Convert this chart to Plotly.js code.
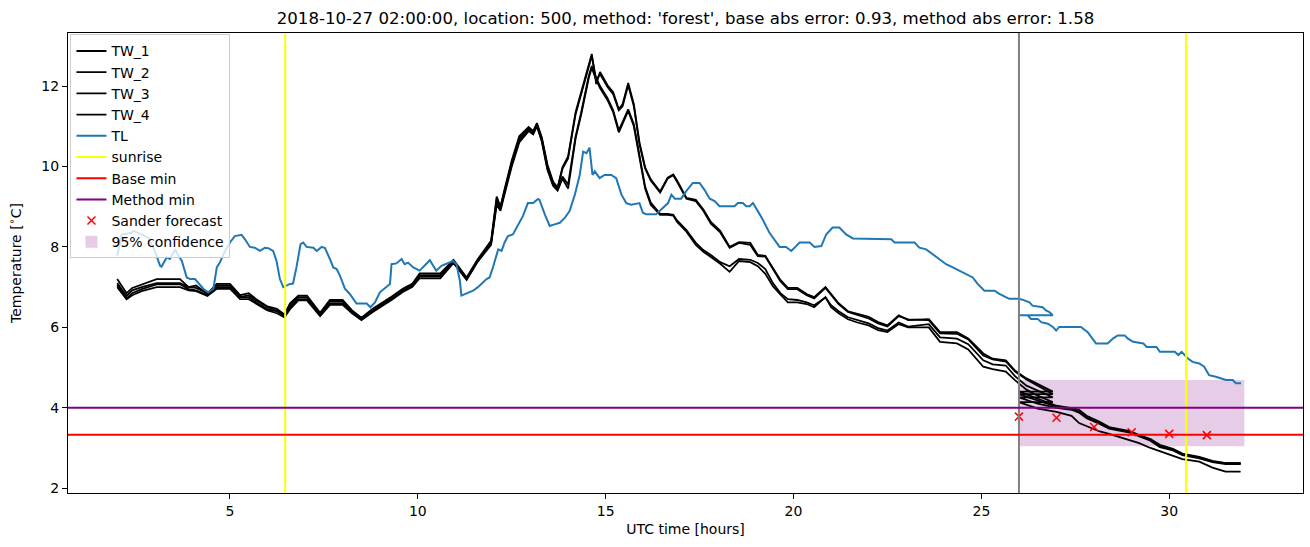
<!DOCTYPE html>
<html>
<head>
<meta charset="utf-8">
<script src="https://cdn.plot.ly/plotly-3.0.1.min.js"></script>
<style>html,body{margin:0;padding:0;background:#fff;}#chart{width:1310px;height:547px;}</style>
</head>
<body>
<div id="chart"></div>
<script>
// ---------- data ----------
const twTime = [2.0, 2.25, 2.4, 2.65, 3.05, 3.67, 3.9, 4.1, 4.4, 4.65,
  5.0, 5.27, 5.5, 5.7, 6.0, 6.25, 6.45, 6.6, 6.82, 7.05,
  7.4, 7.66, 8.0, 8.25, 8.5, 8.8, 9.05, 9.3, 9.6, 9.85,
  10.05, 10.6, 10.95, 11.3, 11.6, 11.95, 12.1, 12.2, 12.3, 12.5,
  12.7, 12.95, 13.07, 13.17, 13.3, 13.45, 13.6, 13.72, 13.85, 14.0,
  14.2, 14.35, 14.55, 14.63, 14.75, 14.85, 15.05, 15.2, 15.35, 15.45,
  15.6, 15.75, 15.9, 16.05, 16.2, 16.45, 16.65, 16.8, 16.9, 17.15,
  17.4, 17.6, 17.8, 18.05, 18.3, 18.55, 18.85, 19.05, 19.25, 19.45,
  19.65, 19.85, 20.1, 20.35, 20.55, 20.85, 21.0, 21.2, 21.45, 21.7,
  22.0, 22.25, 22.5, 22.8, 23.05, 23.6, 23.9, 24.35, 24.65, 25.05,
  25.3, 25.65, 25.9, 26.2, 26.5, 26.9];

const tw1 = [7.20, 6.85, 6.98, 7.07, 7.20, 7.20, 7.00, 7.04, 6.83, 7.08,
  7.08, 6.80, 6.85, 6.70, 6.52, 6.46, 6.32, 6.60, 6.79, 6.79,
  6.36, 6.68, 6.68, 6.42, 6.24, 6.46, 6.60, 6.76, 6.96, 7.08,
  7.34, 7.34, 7.68, 7.24, 7.70, 8.15, 9.25, 9.00, 9.40, 10.15,
  10.75, 10.98, 10.88, 11.08, 10.72, 10.05, 9.62, 9.48, 9.98, 10.25,
  11.35, 11.85, 12.55, 12.80, 12.05, 12.35, 12.02, 11.85, 11.42, 11.55,
  12.08, 11.55, 10.60, 9.98, 9.68, 9.38, 9.72, 9.80, 9.65, 9.22,
  9.17, 8.93, 8.62, 8.40, 8.00, 8.12, 8.10, 7.80, 7.78, 7.47,
  7.18, 6.98, 6.98, 6.83, 6.75, 7.00, 6.84, 6.60, 6.40, 6.33,
  6.26, 6.13, 6.05, 6.30, 6.18, 6.20, 5.88, 5.88, 5.72, 5.35,
  5.22, 5.18, 4.92, 4.73, 4.58, 4.40];

const tw2 = [7.10, 6.78, 6.92, 7.00, 7.10, 7.10, 7.00, 6.98, 6.85, 7.04,
  7.04, 6.75, 6.80, 6.67, 6.50, 6.42, 6.30, 6.55, 6.75, 6.75,
  6.33, 6.65, 6.65, 6.40, 6.22, 6.44, 6.58, 6.74, 6.94, 7.05,
  7.30, 7.30, 7.66, 7.22, 7.68, 8.10, 9.20, 8.98, 9.35, 10.10,
  10.70, 10.95, 10.85, 11.05, 10.70, 10.00, 9.60, 9.45, 9.94, 10.20,
  11.30, 11.80, 12.50, 12.75, 12.15, 12.30, 11.98, 11.80, 11.40, 11.50,
  12.02, 11.50, 10.55, 9.95, 9.65, 9.35, 9.70, 9.78, 9.62, 9.20,
  9.14, 8.90, 8.58, 8.36, 7.98, 8.10, 8.05, 7.77, 7.76, 7.45,
  7.15, 6.95, 6.95, 6.80, 6.72, 6.98, 6.82, 6.58, 6.38, 6.30,
  6.22, 6.10, 6.02, 6.28, 6.20, 6.18, 5.85, 5.84, 5.70, 5.30,
  5.20, 5.15, 4.90, 4.70, 4.55, 4.34];

const tw3 = [7.05, 6.72, 6.85, 6.95, 7.07, 7.07, 6.95, 6.92, 6.80, 7.00,
  7.00, 6.75, 6.75, 6.62, 6.45, 6.40, 6.28, 6.50, 6.70, 6.70,
  6.30, 6.60, 6.60, 6.38, 6.20, 6.40, 6.55, 6.70, 6.90, 7.02,
  7.26, 7.26, 7.62, 7.20, 7.66, 8.08, 9.10, 8.95, 9.30, 10.05,
  10.65, 10.92, 10.82, 11.02, 10.65, 9.95, 9.55, 9.42, 9.75, 9.55,
  10.75, 11.35, 12.25, 12.50, 12.20, 12.00, 11.70, 11.40, 10.90, 11.10,
  11.42, 11.05, 10.30, 9.50, 9.10, 8.82, 8.82, 8.80, 8.66, 8.42,
  8.10, 7.92, 7.80, 7.62, 7.52, 7.70, 7.68, 7.60, 7.45, 7.10,
  6.85, 6.70, 6.68, 6.62, 6.55, 6.74, 6.55, 6.40, 6.25, 6.18,
  6.10, 5.98, 5.92, 6.12, 6.02, 6.08, 5.75, 5.72, 5.58, 5.18,
  5.08, 5.05, 4.78, 4.55, 4.42, 4.26];

const tw4 = [7.00, 6.70, 6.80, 6.90, 7.00, 7.00, 6.92, 6.90, 6.78, 6.96,
  6.96, 6.70, 6.70, 6.58, 6.42, 6.35, 6.25, 6.45, 6.67, 6.67,
  6.28, 6.56, 6.56, 6.35, 6.18, 6.38, 6.52, 6.68, 6.88, 7.00,
  7.22, 7.22, 7.60, 7.18, 7.64, 8.05, 9.05, 8.90, 9.28, 10.00,
  10.60, 10.88, 10.80, 11.00, 10.62, 9.92, 9.52, 9.40, 9.70, 9.45,
  10.70, 11.30, 12.20, 12.45, 12.15, 11.95, 11.65, 11.35, 10.85, 11.05,
  11.38, 11.00, 10.25, 9.45, 9.05, 8.80, 8.80, 8.78, 8.62, 8.38,
  8.05, 7.88, 7.75, 7.58, 7.38, 7.65, 7.62, 7.52, 7.33, 7.02,
  6.82, 6.62, 6.62, 6.58, 6.50, 6.75, 6.50, 6.35, 6.20, 6.12,
  6.05, 5.93, 5.88, 6.08, 6.00, 6.00, 5.64, 5.60, 5.45, 5.02,
  4.96, 4.90, 4.68, 4.45, 4.30, 4.14];

// forecast part of the water temperature lines (drawn again from 26 h)
const fcTime = [26.0, 26.5, 27.0, 27.4, 27.6, 27.8, 28.15, 28.4, 28.95, 29.2,
  29.5, 29.75, 30.1, 30.35, 30.8, 31.15, 31.5, 31.9];
const tw1Fc = [4.40, 4.22, 4.05, 3.99, 3.95, 3.80, 3.65, 3.52, 3.42, 3.32,
  3.22, 3.08, 2.98, 2.86, 2.78, 2.68, 2.62, 2.62];
const tw2Fc = [4.34, 4.18, 4.02, 3.97, 3.90, 3.76, 3.62, 3.50, 3.40, 3.30,
  3.20, 3.05, 2.95, 2.84, 2.76, 2.66, 2.62, 2.62];
const tw3Fc = [4.26, 4.10, 4.00, 3.95, 3.88, 3.74, 3.60, 3.48, 3.38, 3.28,
  3.18, 3.02, 2.94, 2.82, 2.74, 2.65, 2.60, 2.60];
const tw4Fc = [4.14, 3.98, 3.90, 3.80, 3.62, 3.55, 3.41, 3.35, 3.20, 3.12,
  3.00, 2.92, 2.80, 2.72, 2.66, 2.51, 2.41, 2.41];

// air temperature TL
const tlTime = [2.0, 2.12, 2.38, 2.43, 2.65, 2.83, 3.0, 3.14, 3.18, 3.32,
  3.40, 3.54, 3.63, 3.72, 3.85, 3.94, 4.07, 4.29, 4.42, 4.56,
  4.65, 4.73, 4.87, 5.0, 5.13, 5.31, 5.40, 5.53, 5.66, 5.80,
  5.93, 6.02, 6.15, 6.24, 6.33, 6.42, 6.60, 6.68, 6.77, 6.88,
  6.95, 7.04, 7.22, 7.31, 7.44, 7.53, 7.66, 7.75, 7.84, 7.93,
  8.06, 8.19, 8.37, 8.64, 8.74, 8.86, 8.99, 9.12, 9.26, 9.30,
  9.43, 9.57, 9.65, 9.74, 9.88, 10.05, 10.14, 10.32, 10.41, 10.49,
  10.63, 10.81, 10.94, 11.03, 11.12, 11.16, 11.34, 11.47, 11.60, 11.74,
  11.83, 11.91, 12.0, 12.14, 12.23, 12.31, 12.40, 12.53, 12.71, 12.80,
  12.93, 13.07, 13.20, 13.24, 13.38, 13.51, 13.64, 13.78, 13.91, 14.04,
  14.18, 14.31, 14.40, 14.49, 14.57, 14.65, 14.71, 14.84, 14.97, 15.15,
  15.28, 15.42, 15.55, 15.68, 15.90, 15.99, 16.08, 16.34, 16.52, 16.66,
  16.75, 16.84, 17.01, 17.14, 17.32, 17.50, 17.63, 17.77, 17.90, 18.03,
  18.43, 18.52, 18.65, 18.74, 18.83, 18.92, 19.05, 19.18, 19.36, 19.54,
  19.63, 19.80, 19.94, 20.07, 20.16, 20.43, 20.56, 20.74, 20.87, 21.04,
  21.22, 21.40, 21.58, 22.60, 22.69, 23.22, 23.35, 23.53, 23.70, 23.88,
  24.06, 24.24, 24.41, 24.59, 24.77, 24.90, 25.08, 25.35, 25.48, 25.74,
  26.01, 26.14, 26.28, 26.36, 26.63, 26.72, 26.81, 26.90];
const tlTemp = [7.78, 8.31, 8.35, 8.40, 8.31, 8.23, 7.90, 7.53, 7.51, 7.74,
  7.70, 7.94, 7.78, 7.65, 7.24, 7.20, 7.20, 6.96, 6.87, 6.96,
  7.49, 7.61, 7.90, 8.11, 8.27, 8.30, 8.19, 8.00, 7.98, 7.90,
  7.98, 7.97, 7.90, 7.65, 7.20, 7.00, 7.08, 7.09, 7.49, 8.07,
  8.11, 8.00, 7.98, 7.90, 8.00, 7.97, 7.70, 7.49, 7.45, 7.28,
  6.96, 6.83, 6.59, 6.59, 6.50, 6.62, 6.87, 6.96, 7.08, 7.57,
  7.59, 7.70, 7.57, 7.61, 7.49, 7.41, 7.49, 7.67, 7.53, 7.41,
  7.53, 7.61, 7.65, 7.57, 7.16, 6.79, 6.87, 6.91, 7.00, 7.12,
  7.20, 7.24, 7.49, 7.94, 7.90, 8.11, 8.27, 8.31, 8.60, 8.77,
  9.09, 9.09, 9.19, 9.17, 8.81, 8.52, 8.56, 8.60, 8.72, 8.89,
  9.30, 9.79, 10.37, 10.33, 10.47, 9.79, 9.88, 9.71, 9.79, 9.79,
  9.71, 9.30, 9.09, 9.05, 9.09, 8.85, 8.81, 8.81, 8.97, 9.09,
  9.30, 9.20, 9.20, 9.38, 9.59, 9.59, 9.42, 9.20, 9.14, 9.01,
  9.01, 9.09, 9.09, 9.01, 9.01, 9.09, 8.89, 8.68, 8.35, 8.11,
  8.00, 8.00, 7.90, 8.02, 8.11, 8.11, 8.00, 8.02, 8.31, 8.48,
  8.48, 8.31, 8.21, 8.19, 8.11, 8.11, 7.98, 7.94, 7.82, 7.70,
  7.57, 7.49, 7.41, 7.33, 7.24, 7.08, 6.91, 6.91, 6.83, 6.71,
  6.71, 6.67, 6.62, 6.54, 6.50, 6.42, 6.38, 6.30];
const tlFcTime = [26.0, 26.23, 26.32, 26.50, 26.59, 26.77, 26.90, 26.99, 27.07, 27.65,
  27.83, 28.05, 28.36, 28.50, 28.63, 28.81, 28.90, 29.04, 29.31, 29.40,
  29.66, 29.75, 30.15, 30.24, 30.33, 30.40, 30.49, 30.62, 30.80, 30.93,
  31.06, 31.24, 31.51, 31.69, 31.77, 31.91];
const tlFcTemp = [6.30, 6.30, 6.21, 6.21, 6.13, 6.09, 6.01, 5.92, 6.01, 6.01,
  5.88, 5.60, 5.60, 5.72, 5.80, 5.80, 5.72, 5.64, 5.60, 5.51,
  5.51, 5.39, 5.39, 5.31, 5.39, 5.31, 5.23, 5.14, 5.10, 5.02,
  4.81, 4.77, 4.69, 4.69, 4.61, 4.61];

// Sander forecast
const sanderTime = [26, 27, 28, 29, 30, 31];
const sanderTemp = [3.78, 3.75, 3.52, 3.39, 3.35, 3.32];

// reference lines and band
const sunriseHours = [6.47, 30.45];
const forecastStart = 26;
const baseMin = 3.33;
const methodMin = 4.0;
const confTime = [26, 32];
const confTemp = [3.04, 4.69];

const xTicks = [5, 10, 15, 20, 25, 30];
const yTicks = [2, 4, 6, 8, 10, 12];

// ---------- traces ----------
const FONT = 'DejaVu Sans, sans-serif';
const twNames = ['TW_1', 'TW_2', 'TW_3', 'TW_4'];
const twObs = [tw1, tw2, tw3, tw4];
const twFc = [tw1Fc, tw2Fc, tw3Fc, tw4Fc];

const traces = [];
twNames.forEach((n, i) => {
  traces.push({
    type: 'scatter', mode: 'lines', name: n, legendrank: i + 1,
    x: twTime.concat(fcTime), y: twObs[i].concat(twFc[i]),
    line: {color: '#000000', width: 1.8}, hoverinfo: 'skip'
  });
});
traces.push({
  type: 'scatter', mode: 'lines', name: 'TL', legendrank: 5,
  x: tlTime.concat(tlFcTime), y: tlTemp.concat(tlFcTemp),
  line: {color: '#1f77b4', width: 2}, hoverinfo: 'skip'
});
traces.push({
  type: 'scatter', mode: 'markers', name: 'Sander forecast', legendrank: 9,
  x: sanderTime, y: sanderTemp,
  marker: {symbol: 'x-thin', size: 8, color: 'red', line: {color: 'red', width: 1.5}},
  hoverinfo: 'skip'
});

const shapes = [];
sunriseHours.forEach((h, i) => {
  shapes.push({type: 'line', xref: 'x', yref: 'paper', x0: h, x1: h, y0: 0, y1: 1,
    line: {color: '#ffff00', width: 2}, name: 'sunrise', showlegend: i === 0, legendrank: 6});
});
shapes.push({type: 'line', xref: 'x', yref: 'paper', x0: forecastStart, x1: forecastStart, y0: 0, y1: 1,
  line: {color: '#808080', width: 2}});
shapes.push({type: 'line', xref: 'paper', yref: 'y', x0: 0, x1: 1, y0: baseMin, y1: baseMin,
  line: {color: '#ff0000', width: 2}, name: 'Base min', showlegend: true, legendrank: 7});
shapes.push({type: 'line', xref: 'paper', yref: 'y', x0: 0, x1: 1, y0: methodMin, y1: methodMin,
  line: {color: '#800080', width: 2}, name: 'Method min', showlegend: true, legendrank: 8});
shapes.push({type: 'rect', xref: 'x', yref: 'y', x0: confTime[0], x1: confTime[1], y0: confTemp[0], y1: confTemp[1],
  fillcolor: 'rgba(128,0,128,0.2)', line: {width: 0}, layer: 'below',
  name: '95% confidence', showlegend: true, legendrank: 10});

const axisCommon = {
  showline: true, mirror: true, linecolor: '#000', linewidth: 1,
  ticks: 'outside', ticklen: 5, tickwidth: 1, tickcolor: '#000',
  showgrid: false, zeroline: false,
  tickfont: {family: FONT, size: 14, color: '#000'}
};

const layout = {
  width: 1310, height: 547,
  margin: {l: 68, r: 7, t: 33, b: 54},
  paper_bgcolor: '#fff', plot_bgcolor: '#fff',
  font: {family: FONT, size: 14, color: '#000'},
  title: {text: "2018-10-27 02:00:00, location: 500, method: 'forest', base abs error: 0.93, method abs error: 1.58",
    font: {family: FONT, size: 16.6, color: '#000'}, x: 0.5, xref: 'paper', xanchor: 'center', y: 0.967, yanchor: 'middle'},
  xaxis: Object.assign({}, axisCommon, {range: [0.69, 33.56], tickvals: xTicks,
    title: {text: 'UTC time [hours]', font: {family: FONT, size: 14}, standoff: 6}}),
  yaxis: Object.assign({}, axisCommon, {range: [1.88, 13.32], tickvals: yTicks,
    title: {text: 'Temperature [<sup>∘</sup>C]', font: {family: FONT, size: 14}, standoff: 16}}),
  showlegend: true,
  legend: {x: 0.002, y: 0.997, xanchor: 'left', yanchor: 'top',
    bgcolor: 'rgba(255,255,255,0.8)', bordercolor: '#cccccc', borderwidth: 1,
    font: {family: FONT, size: 14, color: '#000'}, tracegroupgap: 0},
  shapes: shapes
};

Plotly.newPlot('chart', traces, layout, {staticPlot: true, displayModeBar: false});
</script>
</body>
</html>
